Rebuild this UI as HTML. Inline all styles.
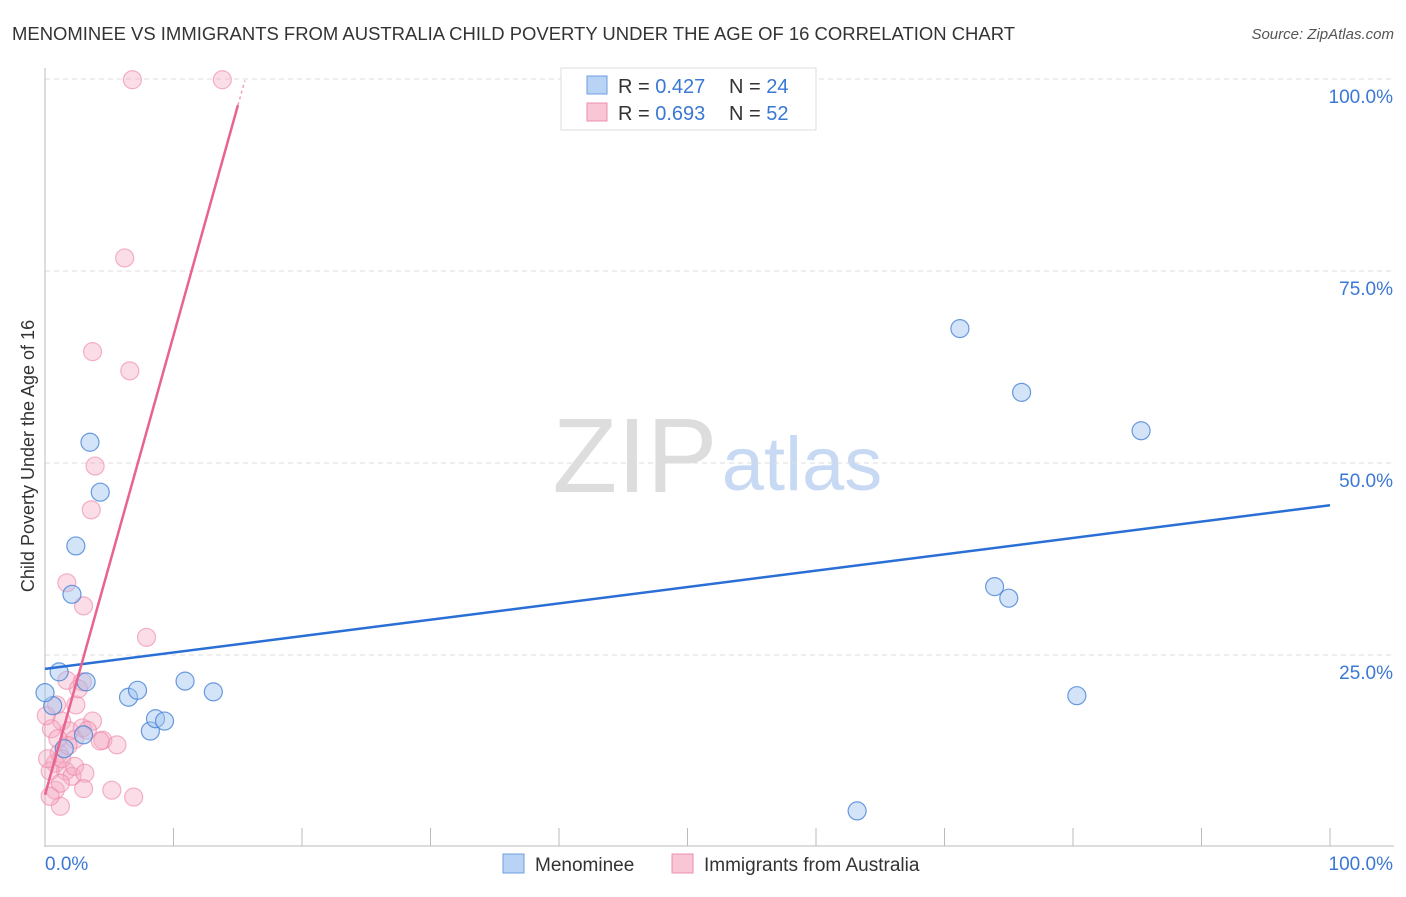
<!DOCTYPE html>
<html><head><meta charset="utf-8"><style>
body{margin:0;background:#fff;font-family:"Liberation Sans",sans-serif;}
svg text{font-family:"Liberation Sans",sans-serif;}
</style></head><body>
<svg id="chart" width="1406" height="892">
<text x="12" y="40" font-size="18" fill="#333" textLength="1003" lengthAdjust="spacingAndGlyphs">MENOMINEE VS IMMIGRANTS FROM AUSTRALIA CHILD POVERTY UNDER THE AGE OF 16 CORRELATION CHART</text>
<text x="1394" y="39" font-size="15" fill="#555" font-style="italic" text-anchor="end">Source: ZipAtlas.com</text>
<text x="34" y="456" font-size="18" fill="#333" text-anchor="middle" transform="rotate(-90 34 456)">Child Poverty Under the Age of 16</text>
<g><text x="635" y="492" font-size="106" font-family="Liberation Serif,serif" fill="#ddd" text-anchor="middle">ZIP</text><text x="802" y="490" font-size="76" fill="#c8daf3" text-anchor="middle">atlas</text></g>
<g id="grid"></g><g id="axes"></g><g id="pts"></g><g id="lines"></g>
<g>
<rect x="561" y="68" width="255" height="62" fill="#fff" stroke="#ddd"/>
<rect x="587" y="76" width="20" height="18" fill="#b9d3f5" stroke="#6d9ee0"/>
<rect x="587" y="103" width="20" height="18" fill="#f9c6d6" stroke="#ec8fae"/>
<text x="618" y="93" font-size="20" fill="#333">R = <tspan fill="#3a78d4">0.427</tspan></text>
<text x="729" y="93" font-size="20" fill="#333">N = <tspan fill="#3a78d4">24</tspan></text>
<text x="618" y="120" font-size="20" fill="#333">R = <tspan fill="#3a78d4">0.693</tspan></text>
<text x="729" y="120" font-size="20" fill="#333">N = <tspan fill="#3a78d4">52</tspan></text>
</g>
<g>
<rect x="503" y="854" width="21" height="19" fill="#b9d3f5" stroke="#6d9ee0"/>
<text x="535" y="871" font-size="19" fill="#333">Menominee</text>
<rect x="672" y="854" width="21" height="19" fill="#f9c6d6" stroke="#ec8fae"/>
<text x="704" y="871" font-size="19" fill="#333">Immigrants from Australia</text>
</g>
</svg>
<script>
const yTicks=[25,50,75,100];
const yTickLabels=["25.0%","50.0%","75.0%","100.0%"];
const blueX=[1.1,3.2,3.5,4.3,2.4,2.1,0.6,0,3,6.5,7.2,8.2,8.6,9.3,10.9,13.1,71.2,76,85.3,73.9,75,80.3,63.2,1.5];
const blueY=[22.8,21.5,52.7,46.2,39.2,32.9,18.4,20.1,14.6,19.5,20.4,15.1,16.7,16.4,21.6,20.2,67.5,59.2,54.2,33.9,32.4,19.7,4.7,12.8];
const pinkX=[6.8,13.8,6.2,3.7,6.6,3.9,3.6,1.7,3,7.9,1.7,2.9,2.4,0.9,1.3,1.9,2.9,1.1,2.3,0.8,1.6,0.4,2.1,1.3,4.5,5.6,2.3,3.1,5.2,3.0,6.9,1.2,0.8,0.5,0.1,0.2,3.7,1.8,1,4.3,3.3,2.6,1.2,0.4];
const pinkY=[99.9,99.9,76.7,64.5,62,49.6,43.9,34.4,31.4,27.3,21.7,21.5,18.5,18.5,16.4,15.1,15.5,12.2,14,10.9,9.9,9.9,9.2,11.5,13.9,13.3,10.5,9.6,7.4,7.6,6.5,5.3,7.4,15.4,17.1,11.5,16.4,13.2,14.1,13.8,15.2,20.6,8.3,6.6];
const blueLine=[23.2,44.5];
const pinkLine=[6.8,5.98];
const X=v=>45+v*12.85, Y=v=>847-v*7.68;
const NS="http://www.w3.org/2000/svg";
function mk(t,a,p){const e=document.createElementNS(NS,t);for(const k in a)e.setAttribute(k,a[k]);p.appendChild(e);return e;}
const grid=document.getElementById('grid'),axes=document.getElementById('axes'),pts=document.getElementById('pts'),lines=document.getElementById('lines');
yTicks.forEach((t,i)=>{
 const g=mk('line',{x1:45,x2:1394,y1:Y(t),y2:Y(t),stroke:'#ddd','stroke-dasharray':'5,4'},grid);
 
 
 const l=mk('text',{x:1393,y:Y(t)+24,'font-size':19,fill:'#3a78d4','text-anchor':'end'},grid);
 l.textContent=yTickLabels[i];
 
 
});
const ax=mk('line',{x1:45,x2:45,y1:68,y2:847,stroke:'#bbb'},axes);


const bx=mk('line',{x1:45,x2:1394,y1:846,y2:846,stroke:'#bbb'},axes);


for(let i=1;i<=10;i++){const t=mk('line',{x1:X(i*10),x2:X(i*10),y1:828,y2:846,stroke:'#bbb'},axes);
 
 }
[[45,'0.0%','start'],[1393,'100.0%','end']].forEach(([x,s,a])=>{const t=mk('text',{x:x,y:870,'font-size':19,fill:'#3a78d4','text-anchor':a},axes);t.textContent=s;
 
 });
pinkX.forEach((v,i)=>{const c=mk('circle',{cx:X(v),cy:Y(pinkY[i]),r:9,fill:'rgba(246,170,195,0.4)',stroke:'rgba(236,130,165,0.6)','stroke-width':1.2},pts);
 
 });
blueX.forEach((v,i)=>{const c=mk('circle',{cx:X(v),cy:Y(blueY[i]),r:9,fill:'rgba(160,196,240,0.45)',stroke:'rgba(70,130,215,0.8)','stroke-width':1.2},pts);
 
 });
const b=mk('line',{x1:X(0),y1:Y(blueLine[0]),x2:X(100),y2:Y(blueLine[1]),stroke:'#2a6fd6','stroke-width':2.5},lines);


const xe=(96.6-pinkLine[0])/pinkLine[1];
const p=mk('line',{x1:X(0),y1:Y(pinkLine[0]),x2:X(xe),y2:Y(pinkLine[0]+pinkLine[1]*xe),stroke:'#e8638e','stroke-width':2.5},lines);


const xe2=(99.8-pinkLine[0])/pinkLine[1];
const p2=mk('line',{x1:X(xe),y1:Y(pinkLine[0]+pinkLine[1]*xe),x2:X(xe2),y2:Y(99.8),stroke:'#f0a0b8','stroke-width':1.5,'stroke-dasharray':'3,3'},lines);


</script>
</body></html>
